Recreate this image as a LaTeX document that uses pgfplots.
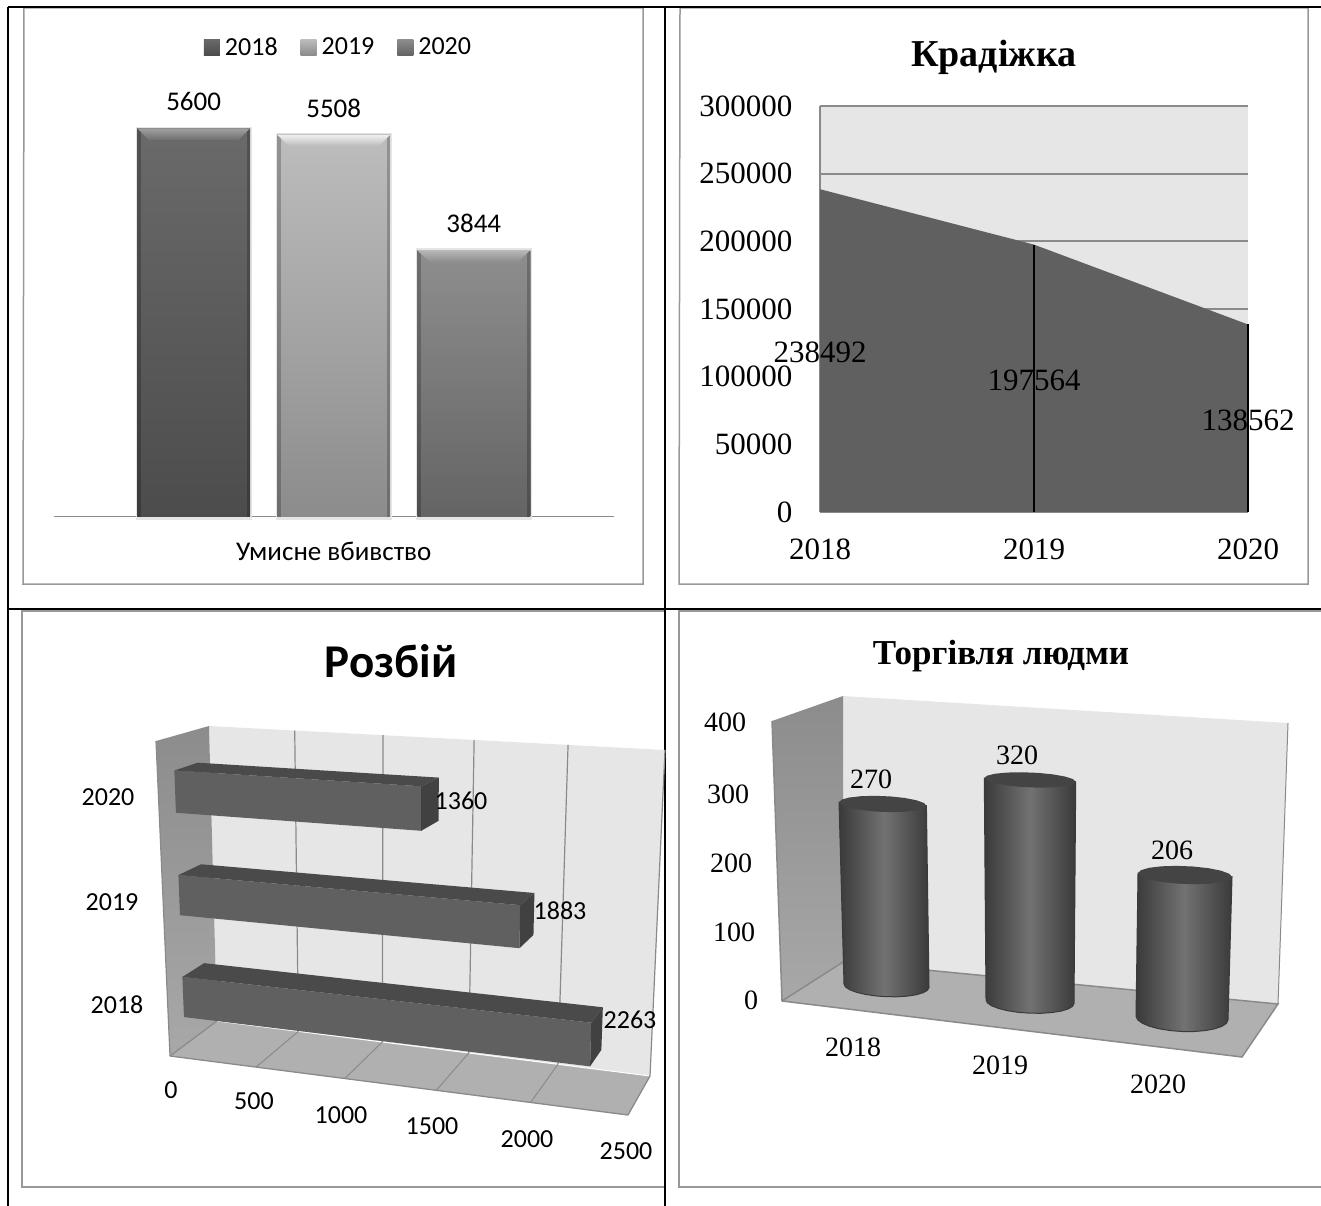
\documentclass[border=0pt]{standalone}
\usepackage{fontspec}
\usepackage{pgfplots}
\usepackage{pgfplotstable}
\pgfplotsset{compat=1.18}
\setmainfont{Liberation Serif}
\newfontfamily\calfont{Carlito}
\newcommand\fs[1]{\fontsize{#1}{#1}\selectfont}
\definecolor{gridgray}{HTML}{8A8A8A}
\definecolor{framegray}{HTML}{989898}
\definecolor{wallgray}{HTML}{E6E6E6}
\definecolor{floorgray}{HTML}{B0B0B0}
\definecolor{areagray}{HTML}{606060}
\definecolor{barfront}{HTML}{606060}
\definecolor{bartop}{HTML}{4A4A4A}
\definecolor{barend}{HTML}{414141}
\definecolor{sidetop}{HTML}{8C8C8C}
\definecolor{sidebot}{HTML}{A8A8A8}
\definecolor{cyldark}{HTML}{3A3A3A}
\definecolor{cylmid}{HTML}{727272}
\definecolor{cyltop}{HTML}{444444}
% angle / height parameter of the cylinder outlines
\pgfplotstableread{
ang w
0 0
15 0
30 0
45 0
60 0
75 0
90 0
105 0
120 0
135 0
150 0
165 0
180 0
180 1
0 1
0 0
}\cylbody
\pgfplotstableread{
ang w
0 1
20 1
40 1
60 1
80 1
100 1
120 1
140 1
160 1
180 1
200 1
220 1
240 1
260 1
280 1
300 1
320 1
340 1
360 1
}\cyllid
\pgfplotsset{
  sqlegend/.style={legend image code/.code={\path[##1] (0pt,-8pt) rectangle (16pt,8pt);}},
}
% chart 3: a box in (value, depth, height) is carried to the page
\newcommand\RQuad[5]{\addplot[#1] table[row sep=\\,
  x expr={rpx(\thisrow{v},\thisrow{d},\thisrow{h})},
  y expr={rpy(\thisrow{v},\thisrow{d},\thisrow{h})}] {v d h\\ #2\\ #3\\ #4\\ #5\\ #2\\};}
\newcommand\RLine[3]{\addplot[#1] table[row sep=\\,
  x expr={rpx(\thisrow{v},\thisrow{d},\thisrow{h})},
  y expr={rpy(\thisrow{v},\thisrow{d},\thisrow{h})}] {v d h\\ #2\\ #3\\};}
\newcommand\RBar[3]{% value, h0, h1
  \RQuad{fill=barfront,draw=none}{0 .32 #2}{#1 .32 #2}{#1 .32 #3}{0 .32 #3}
  \RQuad{fill=bartop,draw=none}{0 .32 #3}{#1 .32 #3}{#1 .77 #3}{0 .77 #3}
  \RQuad{fill=barend,draw=none}{#1 .32 #2}{#1 .77 #2}{#1 .77 #3}{#1 .32 #3}
}
% chart 4: value, px per unit, bottom cx, bottom a, bottom b, bottom cy, top cx, top a, top b
\newcommand\Cyl[9]{%
  \pgfmathsetmacro\cyt{#6-#1*#2}
  \addplot[draw=cyldark,line width=1pt,left color=cyldark,right color=cyldark,middle color=cylmid] table[
    x expr={(1-\thisrow{w})*(#3+#4*cos(\thisrow{ang}))+\thisrow{w}*(#7+#8*cos(\thisrow{ang}))},
    y expr={(1-\thisrow{w})*(#6+#5*sin(\thisrow{ang})+.04*#4*cos(\thisrow{ang}))+\thisrow{w}*(\cyt+#9*sin(\thisrow{ang})+.04*#8*cos(\thisrow{ang}))}] {\cylbody};
  \addplot[draw=none,fill=cyltop] table[
    x expr={#7+#8*cos(\thisrow{ang})},
    y expr={\cyt+#9*sin(\thisrow{ang})+.04*#8*cos(\thisrow{ang})}] {\cyllid};
}
% chart 1: bevelled column
\newcommand\ColBar[7]{% x, value, bottom colour, top colour, bevel top, bevel bottom, year
  \pgfmathsetmacro\xa{#1-.403}\pgfmathsetmacro\xb{#1+.403}
  \pgfmathsetmacro\xc{#1-.317}\pgfmathsetmacro\xd{#1+.317}
  \pgfmathsetmacro\xe{#1-.378}\pgfmathsetmacro\xf{#1+.378}
  \pgfmathsetmacro\ya{#2-170}
  \pgfmathsetmacro\xs{#1-.415}\pgfmathsetmacro\xt{#1+.415}
  \pgfmathsetmacro\ys{#2+25}
  \addplot[forget plot,draw=none,fill=black!10] coordinates {(\xs,-50)(\xt,-50)(\xt,\ys)(\xs,\ys)};
  \addplot[ybar,bar width=113pt,bar shift=0pt,draw=none,top color=#4,bottom color=#3,sqlegend,
    nodes near coords,nodes near coords style={font=\calfont\fs{27},text=black,yshift=14pt}] coordinates {(#1,#2)};
  \addlegendentry{#7}
  \addplot[forget plot,draw=none,fill=black,fill opacity=.22] coordinates {(\xa,0)(\xe,0)(\xe,#2)(\xa,#2)};
  \addplot[forget plot,draw=none,fill=black,fill opacity=.22] coordinates {(\xb,0)(\xf,0)(\xf,#2)(\xb,#2)};
  \addplot[forget plot,draw=none,top color=#5,bottom color=#6] coordinates {(\xa,#2)(\xb,#2)(\xd,\ya)(\xc,\ya)};
}
\begin{document}
\begin{tikzpicture}[x=1pt,y=1pt]
\useasboundingbox (0,0) rectangle (1321,1206);
% ---------- page-wide axis: frames, chart 3, chart 4
\begin{axis}[at={(0pt,0pt)},anchor=south west,width=1321pt,height=1206pt,scale only axis,
  xmin=0,xmax=1321,ymin=0,ymax=1206,y dir=reverse,hide axis,clip=false,
  declare function={
    rtw(\v)=\v/2500;
    rtv(\v)=.926*rtw(\v)/(1-.074*rtw(\v));
    cax(\d,\h)=(1-\d)*((1-\h)*170+\h*156)+\d*((1-\h)*217+\h*209);
    cbx(\d,\h)=(1-\d)*((1-\h)*628+\h*637)+\d*((1-\h)*650+\h*665);
    cay(\d,\h)=(1-\d)*((1-\h)*1056+\h*741)+\d*((1-\h)*1021+\h*726);
    cby(\d,\h)=(1-\d)*((1-\h)*1115+\h*769)+\d*((1-\h)*1076+\h*750);
    rpx(\v,\d,\h)=(1-rtv(\v))*cax(\d,\h)+rtv(\v)*cbx(\d,\h);
    rpy(\v,\d,\h)=(1-rtv(\v))*cay(\d,\h)+rtv(\v)*cby(\d,\h);
  }]
% frames
\addplot[framegray,line width=1.5pt] coordinates {(24,8)(643,8)(643,584)(23,584)(24,8)};
\addplot[framegray,line width=1.5pt] coordinates {(680,8)(1308,8)(1308,584)(679,584)(680,8)};
\addplot[framegray,line width=1.5pt] coordinates {(665,611)(22,611)(22,1187)(665,1187)};
\addplot[framegray,line width=1.5pt] coordinates {(1321,611)(679,611)(679,1187)(1321,1187)};
\addplot[black,line width=2pt] coordinates {(8,7)(1321,7)};
\addplot[black,line width=1.6pt] coordinates {(8,7)(8,1206)};
\addplot[black,line width=1.6pt] coordinates {(665,7)(665,1206)};
\addplot[black,line width=1.4pt] coordinates {(8,609)(1321,609)};
% chart 3: walls and floor
\RQuad{fill=wallgray,draw=none}{0 1 0}{2500 1 0}{2500 1 1}{0 1 1}
\RQuad{draw=none,top color=sidetop,bottom color=sidebot}{0 0 0}{0 1 0}{0 1 1}{0 0 1}
\RQuad{fill=floorgray,draw=none}{0 0 0}{2500 0 0}{2500 1 0}{0 1 0}
\RLine{white,line width=1pt}{0 1 0}{2500 1 0}
\RLine{gridgray,line width=1.2pt}{500 1 0}{500 1 1}
\RLine{gridgray,line width=1.2pt}{1000 1 0}{1000 1 1}
\RLine{gridgray,line width=1.2pt}{1500 1 0}{1500 1 1}
\RLine{gridgray,line width=1.2pt}{2000 1 0}{2000 1 1}
\RLine{gridgray,line width=1.2pt}{2500 1 0}{2500 1 1}
\RLine{gridgray,line width=1pt}{500 0 0}{500 1 0}
\RLine{gridgray,line width=1pt}{1000 0 0}{1000 1 0}
\RLine{gridgray,line width=1pt}{1500 0 0}{1500 1 0}
\RLine{gridgray,line width=1pt}{2000 0 0}{2000 1 0}
\RLine{gridgray,line width=1.3pt}{2500 0 0}{2500 1 0}
\RLine{gridgray,line width=1.3pt}{0 0 0}{2500 0 0}
\RLine{gridgray,line width=1.2pt}{0 0 0}{0 0 1}
\RLine{gridgray,line width=1.2pt}{0 0 0}{0 1 0}
% chart 3: bars (value, height range of the category)
\RBar{1360}{.752}{.889}
\RBar{1883}{.42}{.55}
\RBar{2263}{.09}{.22}
% chart 4: walls and floor
\addplot[fill=wallgray,draw=none] coordinates {(843,696)(1288,723)(1278,1004)(843,962)(843,696)};
\addplot[draw=none,top color=sidetop,bottom color=sidebot] coordinates {(772,721)(843,696)(843,962)(782,1001)(772,721)};
\addplot[fill=floorgray,draw=none] coordinates {(782,1001)(843,962)(1278,1004)(1242,1057)(782,1001)};
\addplot[gridgray,line width=1.5pt] coordinates {(772,721)(782,1001)(1242,1057)(1278,1004)(843,962)(782,1001)};
\addplot[gridgray,line width=1pt] coordinates {(1278,1004)(1288,723)};
% chart 4: cylinders
\Cyl{270}{.673}{886.5}{42.5}{11}{985.7}{882.7}{43.7}{8}
\Cyl{320}{.693}{1030}{44}{11.5}{1001.7}{1030}{45.7}{7.5}
\Cyl{206}{.694}{1182}{46}{13.5}{1018}{1185}{47}{9}
% chart 3 text
\node[font=\calfont\bfseries\fs{47}] at (axis cs:391,661) {Розбій};
\begin{scope}[every node/.style={font=\calfont\fs{26}}]
\node at (axis cs:108,797) {2020};
\node at (axis cs:112,902) {2019};
\node at (axis cs:117,1005) {2018};
\node at (axis cs:171,1090) {0};
\node at (axis cs:254,1101) {500};
\node at (axis cs:341,1115) {1000};
\node at (axis cs:432,1126) {1500};
\node at (axis cs:527,1139) {2000};
\node at (axis cs:626,1151) {2500};
\node at (axis cs:461,801) {1360};
\node at (axis cs:560,911) {1883};
\node at (axis cs:630,1020) {2263};
\end{scope}
% chart 4 text
\node[font=\bfseries\fs{35}] at (axis cs:1001,656) {Торгівля людми};
\begin{scope}[every node/.style={font=\fs{28}}]
\node at (axis cs:725,722) {400};
\node at (axis cs:728,794) {300};
\node at (axis cs:731,863) {200};
\node at (axis cs:734,932) {100};
\node at (axis cs:751,1000) {0};
\node at (axis cs:853,1047) {2018};
\node at (axis cs:1000,1065) {2019};
\node at (axis cs:1158,1084) {2020};
\node at (axis cs:871,779) {270};
\node at (axis cs:1017,755) {320};
\node at (axis cs:1172,850) {206};
\end{scope}
\end{axis}
% ---------- chart 1
\begin{axis}[at={(53.6pt,689.3pt)},anchor=south west,width=560.2pt,height=416pt,scale only axis,
  xmin=0,xmax=4,ymin=0,ymax=6000,
  axis x line*=bottom,axis y line=none,
  x axis line style={draw=gridgray,line width=1.4pt},
  xtick={2},xticklabels={Умисне вбивство},major tick length=0pt,
  xticklabel style={font=\calfont\fs{27},yshift=-22pt},
  clip=false,
  /pgf/number format/assume math mode=true,
  /pgf/number format/fixed,
  /pgf/number format/1000 sep={},
  legend style={draw=none,fill=none,at={(.5086,1.129)},anchor=center,legend columns=3,
    font=\calfont\fs{26},inner sep=0pt,
    /tikz/every even column/.append style={column sep=21pt},
    /tikz/every odd column/.append style={column sep=3pt}},
  ]
\definecolor{a1}{HTML}{6A6A6A}\definecolor{a2}{HTML}{4C4C4C}
\definecolor{b1}{HTML}{BDBDBD}\definecolor{b2}{HTML}{8C8C8C}
\definecolor{c1}{HTML}{8E8E8E}\definecolor{c2}{HTML}{646464}
\definecolor{ah}{HTML}{A0A0A0}\definecolor{al}{HTML}{6E6E6E}
\definecolor{bh}{HTML}{F0F0F0}\definecolor{bl}{HTML}{B8B8B8}
\definecolor{ch}{HTML}{B8B8B8}\definecolor{cl}{HTML}{8C8C8C}
\ColBar{1}{5600}{a2}{a1}{ah}{al}{2018}
\ColBar{2}{5508}{b2}{b1}{bh}{bl}{2019}
\ColBar{3}{3844}{c2}{c1}{ch}{cl}{2020}
\end{axis}
% ---------- chart 2
\begin{axis}[at={(820pt,694pt)},anchor=south west,width=428pt,height=406pt,scale only axis,
  xmin=2018,xmax=2020,ymin=0,ymax=300000,
  axis background/.style={fill=wallgray},
  axis lines*=left,
  axis line style={draw=gridgray,line width=1.5pt},
  ymajorgrids,
  major grid style={draw=gridgray,line width=2pt},
  xtick={2018,2019,2020},ytick={0,50000,100000,150000,200000,250000,300000},
  scaled y ticks=false,major tick length=0pt,
  tick label style={font=\fs{31}},
  xticklabel style={yshift=-23pt},
  yticklabel style={xshift=-24pt},
  clip=false,
  /pgf/number format/assume math mode=true,
  /pgf/number format/fixed,
  /pgf/number format/1000 sep={},
  title style={font=\bfseries\fs{38},at={(.406,1.0)},anchor=center,yshift=43pt},
  title={Крадіжка},
  ]
\addplot[fill=areagray,draw=none] coordinates {(2018,238492)(2019,197564)(2020,138562)} \closedcycle;
\addplot[black,line width=1.5pt] coordinates {(2019,0)(2019,197564)};
\addplot[black,line width=1.5pt] coordinates {(2020,0)(2020,138562)};
\node[font=\fs{31}] at (axis cs:2018,118000) {238492};
\node[font=\fs{31}] at (axis cs:2019,97000) {197564};
\node[font=\fs{31}] at (axis cs:2020,68000) {138562};
\end{axis}
\end{tikzpicture}
\end{document}
